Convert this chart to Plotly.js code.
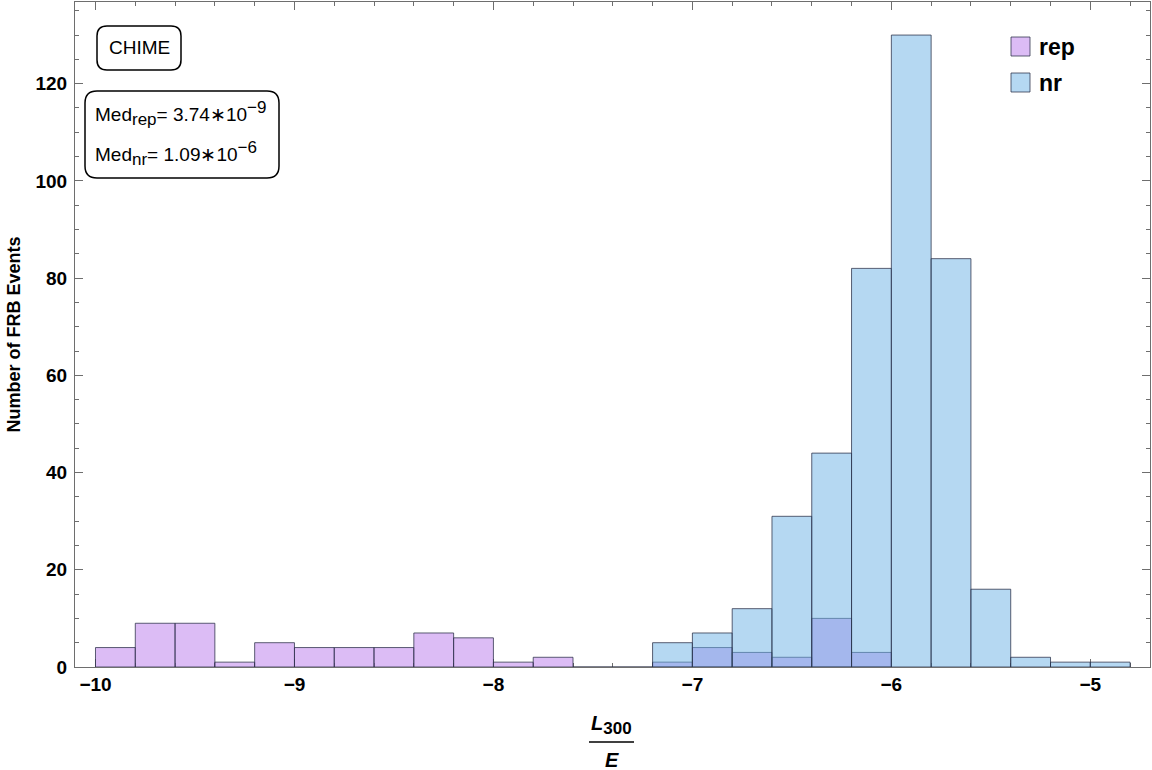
<!DOCTYPE html>
<html><head><meta charset="utf-8">
<script src="https://cdn.plot.ly/plotly-3.0.1.min.js"></script>
<style>body{margin:0;background:#fff}#chart{width:1152px;height:770px}</style>
</head><body><div id="chart"></div>
<script>
// ---- data ----
const binWidth = 0.2;
const repBinCenters = [-9.9,-9.7,-9.5,-9.3,-9.1,-8.9,-8.7,-8.5,-8.3,-8.1,-7.9,-7.7,-7.5,-7.3,-7.1,-6.9,-6.7,-6.5,-6.3,-6.1];
const repCounts     = [4,9,9,1,5,4,4,4,7,6,1,2,0,0,1,4,3,2,10,3];
const nrBinCenters  = [-7.1,-6.9,-6.7,-6.5,-6.3,-6.1,-5.9,-5.7,-5.5,-5.3,-5.1,-4.9];
const nrCounts      = [5,7,12,31,44,82,130,84,16,2,1,1];
const seriesNames   = ["rep","nr"];
const xTickVals = [-10,-9,-8,-7,-6,-5];
const yTickVals = [0,20,40,60,80,100,120];
const medianLines = [
  'Med<sub><span style="font-size:17px">rep</span></sub>= 3.74∗10<sup><span style="font-size:17px">−9</span></sup>',
  'Med<sub><span style="font-size:17px">nr</span></sub>= 1.09∗10<sup><span style="font-size:17px">−6</span></sup>'
];
const boxLabel = "CHIME";

// ---- styles ----
const repFill = "rgba(185,121,235,0.5)";
const nrFill  = "rgba(107,177,229,0.5)";
const edge    = "rgba(40,45,70,0.75)";
const frame   = "#6e6e6e";
const FONT = "Liberation Sans, Arial, sans-serif";

// plot area in pixels
const L=75, R=1150, T=2, B=667;
const px = x => (x-L)/(R-L);
const py = y => (B-y)/(B-T);

function roundRect(x0,y0,x1,y1,r){
  const X=px, Y=py;
  return `M${X(x0+r)},${Y(y0)} L${X(x1-r)},${Y(y0)} Q${X(x1)},${Y(y0)} ${X(x1)},${Y(y0+r)} L${X(x1)},${Y(y1-r)} Q${X(x1)},${Y(y1)} ${X(x1-r)},${Y(y1)} L${X(x0+r)},${Y(y1)} Q${X(x0)},${Y(y1)} ${X(x0)},${Y(y1-r)} L${X(x0)},${Y(y0+r)} Q${X(x0)},${Y(y0)} ${X(x0+r)},${Y(y0)} Z`;
}

const traces = [
  {type:"bar", name:seriesNames[0], x:repBinCenters, y:repCounts, width:binWidth,
   marker:{color:repFill, line:{color:edge, width:1}}, showlegend:false, hoverinfo:"x+y"},
  {type:"bar", name:seriesNames[1], x:nrBinCenters, y:nrCounts, width:binWidth,
   marker:{color:nrFill, line:{color:edge, width:1}}, showlegend:false, hoverinfo:"x+y"}
];

const tickFont = {family:FONT, size:19, color:"#000", weight:"bold"};

const layout = {
  width:1152, height:770,
  margin:{l:L, r:1152-R, t:T, b:770-B},
  paper_bgcolor:"#fff", plot_bgcolor:"#fff",
  barmode:"overlay", bargap:0,
  showlegend:false,
  xaxis:{range:[-10.103,-4.70], tickvals:xTickVals, ticktext:xTickVals.map(v=>"\u2212"+Math.abs(v)),
    ticks:"inside", ticklen:8, tickwidth:1, tickcolor:frame,
    minor:{dtick:0.2, tick0:0, ticks:"inside", ticklen:4, tickwidth:1, tickcolor:frame},
    showline:true, linecolor:frame, linewidth:1, mirror:"allticks",
    showgrid:false, zeroline:false, tickfont:tickFont, layer:"below traces"},
  yaxis:{range:[0,136.8], tickvals:yTickVals,
    ticks:"inside", ticklen:8, tickwidth:1, tickcolor:frame, ticklabelstandoff:3,
    minor:{dtick:5, tick0:0, ticks:"inside", ticklen:4, tickwidth:1, tickcolor:frame},
    showline:true, linecolor:frame, linewidth:1, mirror:"allticks",
    showgrid:false, zeroline:false, tickfont:tickFont, layer:"below traces",
    title:{text:"Number of FRB Events", font:{family:FONT, size:18, color:"#000", weight:"bold"}, standoff:10}},
  shapes:[
    {type:"path", xref:"paper", yref:"paper", path:roundRect(97,26,181,70,10), line:{color:"#000", width:1.5}, fillcolor:"#fff"},
    {type:"path", xref:"paper", yref:"paper", path:roundRect(85,91,279,178,12), line:{color:"#000", width:1.5}, fillcolor:"#fff"},
    {type:"rect", xref:"paper", yref:"paper", x0:px(1011), x1:px(1030), y0:py(56), y1:py(37), fillcolor:repFill, line:{color:edge, width:1}},
    {type:"rect", xref:"paper", yref:"paper", x0:px(1011), x1:px(1030), y0:py(92), y1:py(73), fillcolor:nrFill, line:{color:edge, width:1}},
    {type:"line", xref:"paper", yref:"paper", x0:px(589), x1:px(634), y0:py(742), y1:py(742), line:{color:"#000", width:1.5}}
  ],
  annotations:[
    {xref:"paper", yref:"paper", x:px(139), y:py(47), text:boxLabel, showarrow:false, xanchor:"center", yanchor:"middle", font:{family:FONT, size:19, color:"#000"}},
    {xref:"paper", yref:"paper", x:px(93), y:py(114), text:medianLines[0], showarrow:false, xanchor:"left", yanchor:"middle", font:{family:FONT, size:19, color:"#000"}},
    {xref:"paper", yref:"paper", x:px(93), y:py(154), text:medianLines[1], showarrow:false, xanchor:"left", yanchor:"middle", font:{family:FONT, size:19, color:"#000"}},
    {xref:"paper", yref:"paper", x:px(1037), y:py(47), text:seriesNames[0], showarrow:false, xanchor:"left", yanchor:"middle", font:{family:FONT, size:23, color:"#000", weight:"bold"}},
    {xref:"paper", yref:"paper", x:px(1037), y:py(83), text:seriesNames[1], showarrow:false, xanchor:"left", yanchor:"middle", font:{family:FONT, size:23, color:"#000", weight:"bold"}},
    {xref:"paper", yref:"paper", x:px(611), y:py(725), text:'<i>L</i><sub><span style="font-size:17px">300</span></sub>', showarrow:false, xanchor:"center", yanchor:"middle", font:{family:FONT, size:20, color:"#000", weight:"bold"}},
    {xref:"paper", yref:"paper", x:px(612), y:py(760), text:"<i>E</i>", showarrow:false, xanchor:"center", yanchor:"middle", font:{family:FONT, size:20, color:"#000", weight:"bold"}}
  ]
};

Plotly.newPlot("chart", traces, layout, {displayModeBar:false, staticPlot:true});
</script></body></html>
